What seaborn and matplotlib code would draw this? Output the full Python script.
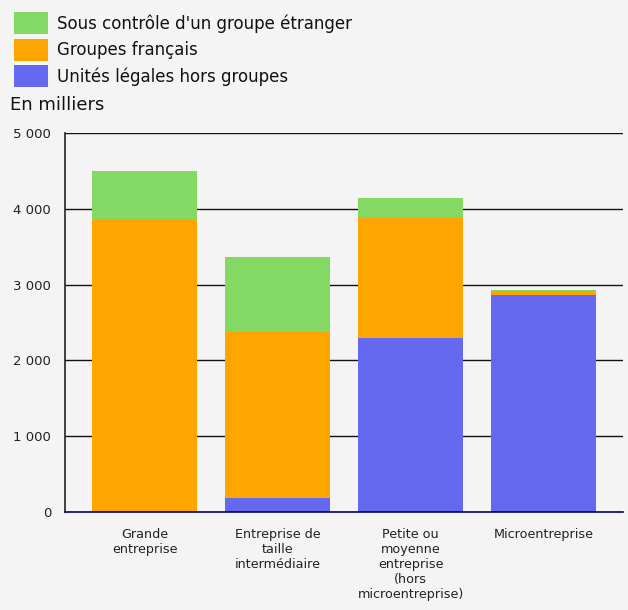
import matplotlib
matplotlib.use("Agg")
import matplotlib.pyplot as plt
import matplotlib.patches as mpatches
import seaborn as sns
import pandas as pd

categories = ["Grande\nentreprise", "Entreprise de\ntaille\nintermédiaire",
              "Petite ou\nmoyenne\nentreprise\n(hors\nmicroentreprise)", "Microentreprise"]
hors_groupes = [0, 185, 2295, 2863]
francais = [3868, 2185, 1599, 49]
etranger = [634, 993, 255, 18]
series_labels = ["Sous contrôle d'un groupe étranger", "Groupes français", "Unités légales hors groupes"]
yticks = [0, 1000, 2000, 3000, 4000, 5000]
ytick_labels = ["0", "1 000", "2 000", "3 000", "4 000", "5 000"]

c_green = "#84d864"
c_orange = "#ffa500"
c_blue = "#6469f0"
bg = "#f4f4f4"

sns.set_style("white")
plt.rcParams['font.family'] = ['DejaVu Sans']

df = pd.DataFrame({"cat": categories, "blue": hors_groupes, "orange": francais, "green": etranger})
df["c_blue"] = df["blue"]
df["c_orange"] = df["blue"] + df["orange"]
df["c_green"] = df["c_orange"] + df["green"]

W, H = 628, 610
fig = plt.figure(figsize=(W / 100, H / 100), dpi=100, facecolor=bg)
ax = fig.add_axes([65 / W, (H - 511.7) / H, (623 - 65) / W, (511.7 - 133.3) / H])
ax.set_facecolor(bg)

for col, color in [("c_green", c_green), ("c_orange", c_orange), ("c_blue", c_blue)]:
    sns.barplot(data=df, x="cat", y=col, color=color, width=0.79, ax=ax,
                saturation=1, edgecolor="none", linewidth=0, zorder=3)

ax.set_ylim(0, 5000)
ax.set_xlim(-0.602, 3.6)
ax.set_yticks(yticks)
ax.set_yticklabels(ytick_labels, fontsize=9.5, color="#222222")
for y in yticks[1:]:
    ax.axhline(y, color="#111111", linewidth=1.0, zorder=1)
ax.set_xlabel("")
ax.set_ylabel("")
for s in ["top", "right"]:
    ax.spines[s].set_visible(False)
ax.spines["left"].set_color("#222222")
ax.spines["left"].set_linewidth(1.2)
ax.spines["bottom"].set_color("#000066")
ax.spines["bottom"].set_linewidth(1.2)
ax.spines["bottom"].set_zorder(4)
ax.tick_params(axis="y", length=7, width=1.0, color="#222222", direction="out", pad=3)
ax.tick_params(axis="x", length=0, pad=12, labelsize=9.2, labelcolor="#222222")

fig.text(10 / W, 1 - 105 / H, "En milliers", fontsize=13, va="center", ha="left", color="#111111")

handles = [mpatches.Patch(facecolor=c, edgecolor="none") for c in [c_green, c_orange, c_blue]]
leg = fig.legend(handles, series_labels, loc="upper left", bbox_to_anchor=(9 / W, 1 - 7 / H),
                 frameon=False, fontsize=12, handlelength=2.04, handleheight=1.67,
                 labelspacing=0.26, handletextpad=0.55, borderaxespad=0, borderpad=0.3)
for t in leg.get_texts():
    t.set_color("#111111")

fig.savefig("out.png", dpi=100, facecolor=bg)
